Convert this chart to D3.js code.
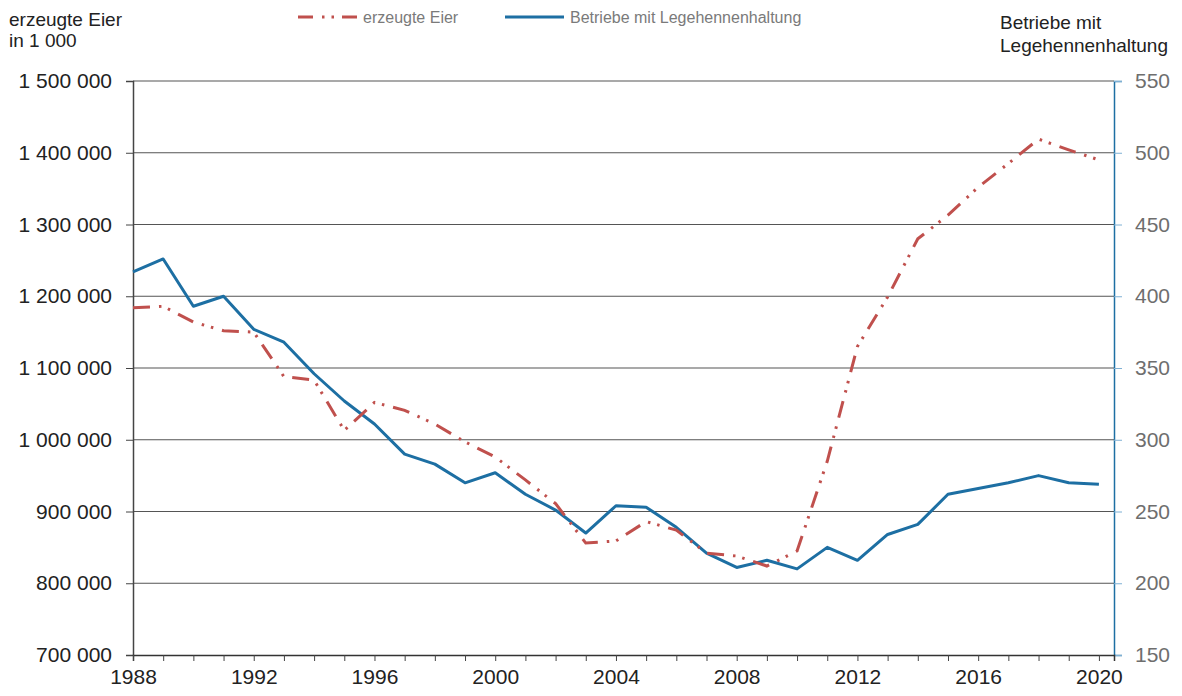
<!DOCTYPE html>
<html>
<head>
<meta charset="utf-8">
<script src="https://cdn.jsdelivr.net/npm/d3@7"></script>
<style>
  body { margin: 0; background: #fff; }
  svg { font-family: "Liberation Sans", Arial, sans-serif; }
</style>
</head>
<body>
<svg id="chart" width="1182" height="696"></svg>
<script>
// Jahre 1988 - 2020
var years = d3.range(1988, 2021);

// erzeugte Eier in 1 000
var eier = [1184000, 1186000, 1164000, 1152000, 1150000, 1088000, 1083000, 1013000,
  1052000, 1041000, 1022000, 997000, 976000, 944000, 911000, 856000, 859000, 886000,
  874000, 842000, 838000, 824000, 845000, 970000, 1130000, 1199000, 1280000, 1313000,
  1352000, 1385000, 1419000, 1404000, 1390000];

// Betriebe mit Legehennenhaltung
var betriebe = [417, 426, 393, 400, 377, 368, 346, 327, 311, 290, 283, 270, 277, 262,
  251, 235, 254, 253, 239, 221, 211, 216, 210, 225, 216, 234, 241, 262, 266, 270, 275,
  270, 269];

var leftTicks = [700000, 800000, 900000, 1000000, 1100000, 1200000, 1300000, 1400000, 1500000];
var rightTicks = [150, 200, 250, 300, 350, 400, 450, 500, 550];
var labelYears = [1988, 1992, 1996, 2000, 2004, 2008, 2012, 2016, 2020];

var red = "#c0504d", blue = "#1d6fa3";

var svg = d3.select("#chart");
var plotLeft = 133, plotRight = 1114, plotTop = 81, plotBottom = 655;

var x = d3.scaleLinear().domain([1988, 2020.5]).range([plotLeft, plotRight]);
var yL = d3.scaleLinear().domain([700000, 1500000]).range([plotBottom, plotTop]);
var yR = d3.scaleLinear().domain([150, 550]).range([plotBottom, plotTop]);

var fmt = function(d) { return d3.format(",")(d).replace(/,/g, " "); };

// gridlines
svg.append("g")
  .selectAll("line")
  .data(leftTicks.slice(1))
  .enter().append("line")
    .attr("x1", plotLeft).attr("x2", plotRight)
    .attr("y1", function(d) { return yL(d); })
    .attr("y2", function(d) { return yL(d); })
    .attr("stroke", "#555")
    .attr("stroke-width", 1.2);

// left axis
var gl = svg.append("g")
  .attr("transform", "translate(" + plotLeft + ",0)")
  .call(d3.axisLeft(yL).tickValues(leftTicks).tickFormat(fmt).tickSize(7).tickPadding(14));
gl.select(".domain").attr("stroke", "#444").attr("stroke-width", 1.5);
gl.selectAll(".tick line").attr("stroke", "#444");
gl.selectAll(".tick text").attr("fill", "#222").style("font-size", "21px");

// right axis
var gr = svg.append("g")
  .attr("transform", "translate(" + plotRight + ",0)")
  .call(d3.axisRight(yR).tickValues(rightTicks).tickSize(8).tickPadding(13));
gr.select(".domain").attr("stroke", blue).attr("stroke-width", 1.5);
gr.selectAll(".tick line").attr("stroke", "#7fb0d4");
gr.selectAll(".tick text").attr("fill", "#6e6e6e").style("font-size", "21px");

// bottom axis
var gb = svg.append("g")
  .attr("transform", "translate(0," + plotBottom + ")")
  .call(d3.axisBottom(x).tickValues(years).tickSize(6).tickPadding(8)
    .tickFormat(function(d) { return labelYears.indexOf(d) >= 0 ? d : ""; }));
gb.select(".domain").attr("stroke", "#333").attr("stroke-width", 1.5);
gb.selectAll(".tick line").attr("stroke", "#444");
gb.selectAll(".tick text").attr("fill", "#222").style("font-size", "21px");

// lines
var lineL = d3.line()
  .x(function(d, i) { return x(years[i]); })
  .y(function(d) { return yL(d); });
var lineR = d3.line()
  .x(function(d, i) { return x(years[i]); })
  .y(function(d) { return yR(d); });

svg.append("path")
  .datum(betriebe)
  .attr("d", lineR)
  .attr("fill", "none")
  .attr("stroke", blue)
  .attr("stroke-width", 3)
  .attr("stroke-linejoin", "round");

svg.append("path")
  .datum(eier)
  .attr("d", lineL)
  .attr("fill", "none")
  .attr("stroke", red)
  .attr("stroke-width", 3)
  .attr("stroke-dasharray", "17,9,2.5,7,2.5,9");

// axis titles
svg.append("text").attr("x", 9).attr("y", 26).attr("fill", "#222")
  .style("font-size", "19px").text("erzeugte Eier");
svg.append("text").attr("x", 9).attr("y", 47).attr("fill", "#222")
  .style("font-size", "19px").text("in 1 000");
svg.append("text").attr("x", 1000).attr("y", 29).attr("fill", "#222")
  .style("font-size", "19px").text("Betriebe mit");
svg.append("text").attr("x", 1000).attr("y", 52).attr("fill", "#222")
  .style("font-size", "19px").text("Legehennenhaltung");

// legend
var legend = [
  { name: "erzeugte Eier", color: red, dash: "15,9,2.5,7,2.5,8", x: 298 },
  { name: "Betriebe mit Legehennenhaltung", color: blue, dash: null, x: 505 }
];
var lg = svg.selectAll(".legend")
  .data(legend)
  .enter().append("g")
    .attr("class", "legend")
    .attr("transform", function(d) { return "translate(" + d.x + ",17)"; });
lg.append("line")
  .attr("x1", 0).attr("x2", 59)
  .attr("stroke", function(d) { return d.color; })
  .attr("stroke-width", 3)
  .attr("stroke-dasharray", function(d) { return d.dash; });
lg.append("text")
  .attr("x", 65).attr("y", 6)
  .attr("fill", "#7a7a7a")
  .style("font-size", "16px")
  .text(function(d) { return d.name; });
</script>
</body>
</html>
